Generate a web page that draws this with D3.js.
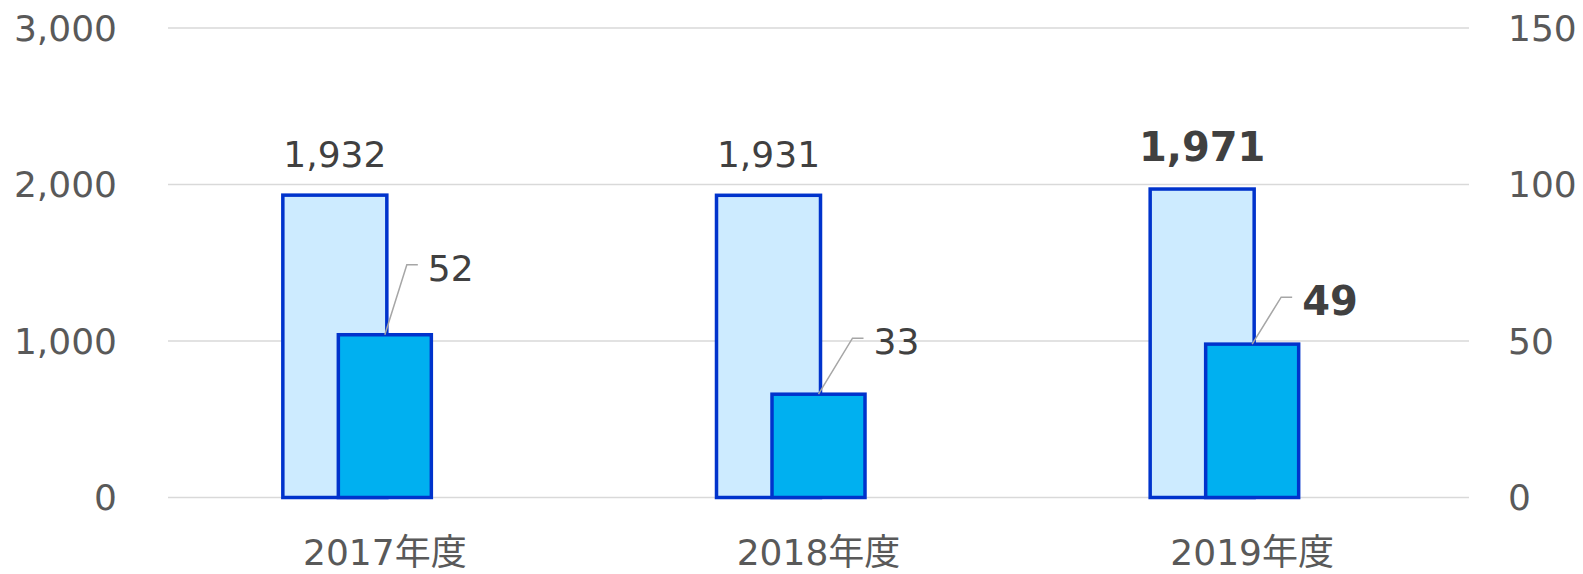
<!DOCTYPE html>
<html>
<head>
<meta charset="utf-8">
<script src="https://cdn.jsdelivr.net/npm/d3@7"></script>
<style>
  body { margin: 0; background: #fff; }
  text { font-family: "DejaVu Sans", Verdana, "Noto Sans CJK JP", sans-serif; }
</style>
</head>
<body>
<svg id="chart" width="1583" height="574"></svg>
<script>
// data
const years = ["2017年度", "2018年度", "2019年度"];
const leftValues = [1932, 1931, 1971];    // left axis series
const rightValues = [52, 33, 49];         // right axis series
const boldFlags = [false, false, true];   // latest year is bold
const leftTicks = [0, 1000, 2000, 3000];
const rightTicks = [0, 50, 100, 150];

// leader line elbow offsets for the right series labels (px, from bar top centre)
const leaderOffsets = [[22, -70], [34, -56], [29, -47]];

const width = 1583, height = 574;
const plot = { left: 168, right: 1469, top: 28, bottom: 497.5 };

const svg = d3.select("#chart");

const x = d3.scaleBand()
  .domain(years)
  .range([plot.left, plot.right])
  .padding(0);

const yL = d3.scaleLinear().domain([0, 3000]).range([plot.bottom, plot.top]);
const yR = d3.scaleLinear().domain([0, 150]).range([plot.bottom, plot.top]);

const rows = years.map((y, i) => ({ year: y, left: leftValues[i], right: rightValues[i], bold: boldFlags[i], off: leaderOffsets[i] }));

// gridlines
svg.append("g")
  .selectAll("line")
  .data(leftTicks)
  .join("line")
  .attr("x1", plot.left)
  .attr("x2", plot.right)
  .attr("y1", d => yL(d))
  .attr("y2", d => yL(d))
  .attr("stroke", "#d9d9d9")
  .attr("stroke-width", 1.5);

// left tick labels
svg.append("g")
  .selectAll("text")
  .data(leftTicks)
  .join("text")
  .attr("x", 117)
  .attr("y", d => yL(d))
  .attr("dy", "0.36em")
  .attr("text-anchor", "end")
  .attr("fill", "#595959")
  .style("font-size", "36px")
  .text(d => d3.format(",")(d));

// right tick labels
svg.append("g")
  .selectAll("text")
  .data(rightTicks)
  .join("text")
  .attr("x", 1508)
  .attr("y", d => yR(d))
  .attr("dy", "0.36em")
  .attr("text-anchor", "start")
  .attr("fill", "#595959")
  .style("font-size", "36px")
  .text(d => d);

// category labels
svg.append("g")
  .selectAll("text")
  .data(years)
  .join("text")
  .attr("x", d => x(d) + x.bandwidth() / 2)
  .attr("y", 565)
  .attr("text-anchor", "middle")
  .attr("fill", "#595959")
  .style("font-size", "36px")
  .text(d => d);

const cx = d => x(d.year) + x.bandwidth() / 2;
const lightW = 104, darkW = 93;

// light bars (left axis)
svg.append("g")
  .selectAll("rect")
  .data(rows)
  .join("rect")
  .attr("x", d => cx(d) - 50 - lightW / 2)
  .attr("width", lightW)
  .attr("y", d => yL(d.left))
  .attr("height", d => yL(0) - yL(d.left))
  .attr("fill", "#cdebff")
  .attr("stroke", "#0033cc")
  .attr("stroke-width", 3.5);

// dark bars (right axis)
svg.append("g")
  .selectAll("rect")
  .data(rows)
  .join("rect")
  .attr("x", d => cx(d) - darkW / 2)
  .attr("width", darkW)
  .attr("y", d => yR(d.right))
  .attr("height", d => yR(0) - yR(d.right))
  .attr("fill", "#00b0f0")
  .attr("stroke", "#0033cc")
  .attr("stroke-width", 3.5);

// labels on light bars
svg.append("g")
  .selectAll("text")
  .data(rows)
  .join("text")
  .attr("x", d => cx(d) - 50)
  .attr("y", d => yL(d.left) - 28)
  .attr("text-anchor", "middle")
  .attr("fill", "#404040")
  .style("font-size", d => d.bold ? "40px" : "36px")
  .style("font-weight", d => d.bold ? "bold" : "normal")
  .text(d => d3.format(",")(d.left));

// leader lines
svg.append("g")
  .selectAll("path")
  .data(rows)
  .join("path")
  .attr("d", d => {
    const x0 = cx(d), y0 = yR(d.right);
    const ex = x0 + d.off[0], ey = y0 + d.off[1];
    return `M${x0},${y0}L${ex},${ey}L${ex + 11},${ey}`;
  })
  .attr("fill", "none")
  .attr("stroke", "#a6a6a6")
  .attr("stroke-width", 1.5);

// labels on dark bars
svg.append("g")
  .selectAll("text")
  .data(rows)
  .join("text")
  .attr("x", d => cx(d) + d.off[0] + 21)
  .attr("y", d => yR(d.right) + d.off[1] + 3)
  .attr("dy", "0.36em")
  .attr("text-anchor", "start")
  .attr("fill", "#404040")
  .style("font-size", d => d.bold ? "40px" : "36px")
  .style("font-weight", d => d.bold ? "bold" : "normal")
  .text(d => d.right);
</script>
</body>
</html>
